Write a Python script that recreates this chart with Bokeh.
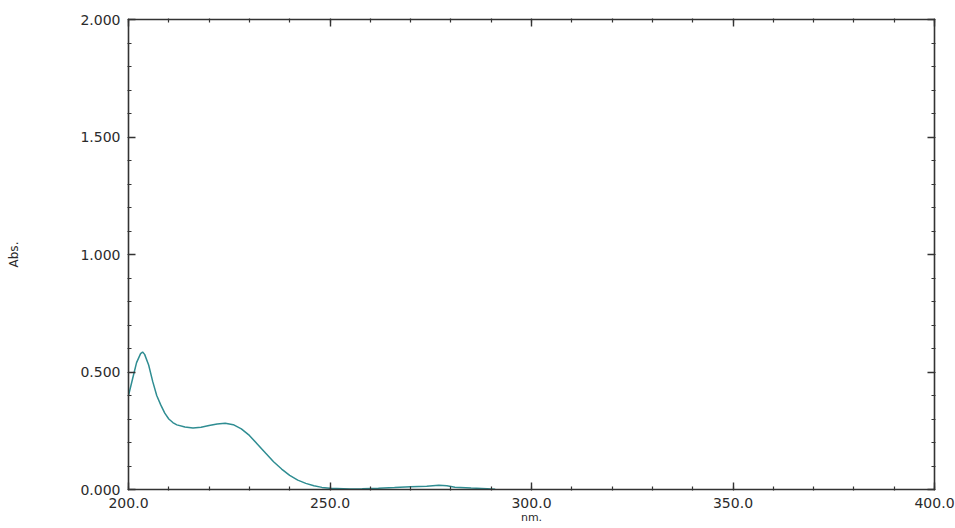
from bokeh.plotting import figure
from bokeh.models import LinearAxis, SingleIntervalTicker, NumeralTickFormatter, Range1d
from bokeh.embed import file_html
from bokeh.resources import INLINE

wavelength = [200, 201, 202, 203, 203.5, 204, 205, 206, 207, 208, 209, 210, 211, 212,
              214, 216, 218, 220, 222, 224, 226, 228, 230, 232, 234, 236, 238, 240,
              242, 244, 246, 248, 250, 255, 258, 262, 266, 270, 274, 277, 279, 281,
              285, 289, 291]
absorbance = [0.40, 0.47, 0.54, 0.578, 0.585, 0.575, 0.53, 0.46, 0.40, 0.36, 0.325, 0.30,
              0.285, 0.275, 0.266, 0.262, 0.265, 0.272, 0.279, 0.282, 0.276, 0.258,
              0.230, 0.193, 0.155, 0.118, 0.087, 0.060, 0.040, 0.026, 0.016, 0.009,
              0.005, 0.002, 0.003, 0.005, 0.008, 0.012, 0.014, 0.018, 0.016, 0.010,
              0.006, 0.003, 0.001]

x_label = "nm."
y_label = "Abs."

FONT = "DejaVu Sans"
AXC = "#333333"

p = figure(width=955, height=528, output_backend="svg", toolbar_location=None,
           x_range=Range1d(200, 400), y_range=Range1d(0, 2),
           min_border_left=128, min_border_right=21, min_border_top=19, min_border_bottom=39,
           x_axis_label=x_label, y_axis_label=y_label)
p.outline_line_color = None
p.grid.visible = False
p.background_fill_color = "white"
p.border_fill_color = "white"

p.line(wavelength, absorbance, line_color="#2f8d92", line_width=1.5)


def style(ax, ticker, labels=True):
    ax.ticker = ticker
    ax.axis_line_color = AXC
    ax.axis_line_width = 1.6
    ax.major_tick_line_color = AXC
    ax.minor_tick_line_color = AXC
    ax.major_tick_line_width = 1.4
    ax.minor_tick_line_width = 1.2
    ax.major_tick_in = 7
    ax.major_tick_out = 0
    ax.minor_tick_in = 3
    ax.minor_tick_out = 1
    if labels:
        ax.major_label_text_font = FONT
        ax.major_label_text_font_size = "14px"
        ax.major_label_text_color = "#2b2b2b"
        ax.axis_label_text_font = FONT
        ax.axis_label_text_font_size = "12px"
        ax.axis_label_text_font_style = "normal"
        ax.axis_label_text_color = "#2b2b2b"
    else:
        ax.major_label_text_font_size = "1px"
        ax.major_label_text_color = None
        ax.major_label_standoff = 0


xt = lambda: SingleIntervalTicker(interval=50, num_minor_ticks=5)
yt = lambda: SingleIntervalTicker(interval=0.5, num_minor_ticks=5)

style(p.xaxis[0], xt())
p.xaxis[0].formatter = NumeralTickFormatter(format="0.0")
p.xaxis[0].major_label_standoff = 7
p.xaxis[0].axis_label_standoff = 0
p.xaxis[0].axis_label_text_font_size = "11px"

style(p.yaxis[0], yt())
p.yaxis[0].formatter = NumeralTickFormatter(format="0.000")
p.yaxis[0].major_label_standoff = 7
p.yaxis[0].axis_label_standoff = 56

top = LinearAxis()
style(top, xt(), labels=False)
p.add_layout(top, "above")
right = LinearAxis()
style(right, yt(), labels=False)
p.add_layout(right, "right")

open("out.html", "w").write(file_html(p, INLINE))
